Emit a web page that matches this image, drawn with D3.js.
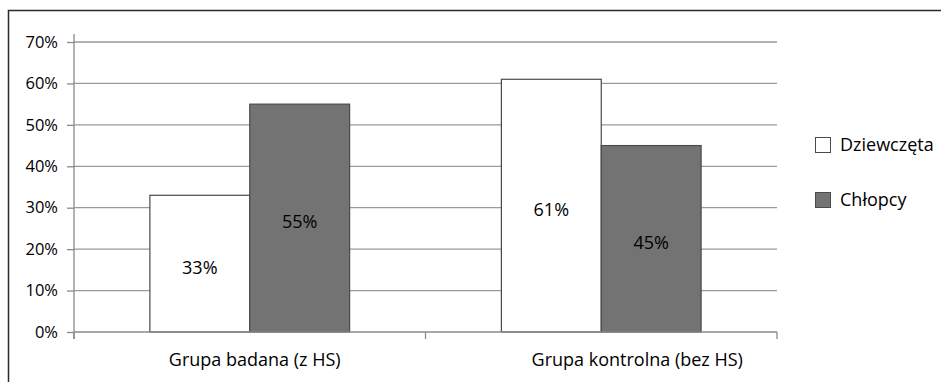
<!DOCTYPE html>
<html>
<head>
<meta charset="utf-8">
<script src="https://cdn.jsdelivr.net/npm/d3@7"></script>
<style>
  html, body { margin: 0; padding: 0; background: #fff; }
  svg { display: block; }
  text { font-family: "Open Sans", "Noto Sans", sans-serif; fill: #000; }
</style>
</head>
<body>
<svg id="chart" width="941" height="382"></svg>
<script>
// Share of respondents by group and sex
const groups = ["Grupa badana (z HS)", "Grupa kontrolna (bez HS)"];
const seriesNames = ["Dziewczęta", "Chłopcy"];
const girls = [33, 61];
const boys = [55, 45];
const yTicks = [0, 10, 20, 30, 40, 50, 60, 70];
const seriesColors = ["#ffffff", "#737373"];

const svg = d3.select("#chart");
const plot = { left: 74, right: 777, top: 42, bottom: 332 };

// outer frame (its right and bottom edges run off the canvas)
svg.append("rect")
  .attr("x", 8.5).attr("y", 10.5)
  .attr("width", 1200).attr("height", 1200)
  .attr("fill", "none").attr("stroke", "#2b2b2b").attr("stroke-width", 1.5);

const x0 = d3.scaleBand().domain(groups).range([plot.left, plot.right]).paddingInner(0).paddingOuter(0);
const x1 = d3.scaleBand().domain(seriesNames).range([0, x0.bandwidth()]).paddingOuter(0.76).paddingInner(0);
const y = d3.scaleLinear().domain([0, 70]).range([plot.bottom, plot.top]);

// horizontal gridlines
svg.append("g").selectAll("line").data(yTicks.filter(d => d > 0)).join("line")
  .attr("x1", plot.left).attr("x2", plot.right)
  .attr("y1", d => y(d)).attr("y2", d => y(d))
  .attr("stroke", "#9a9a9a").attr("stroke-width", 1.3);

// y axis
const yAxis = svg.append("g").attr("transform", `translate(${plot.left},0)`)
  .call(d3.axisLeft(y).tickValues(yTicks).tickFormat(d => d + "%").tickSize(7).tickPadding(9));
yAxis.select(".domain").remove();
yAxis.selectAll(".tick line").attr("stroke", "#8a8a8a").attr("stroke-width", 1.3);
yAxis.selectAll(".tick text").attr("font-size", 16.5).attr("fill", "#000")
  .style("font-family", "'Open Sans', sans-serif");
yAxis.append("line").attr("x1", 0).attr("x2", 0).attr("y1", plot.top - 8).attr("y2", plot.bottom + 7)
  .attr("stroke", "#8a8a8a").attr("stroke-width", 1.3);

// bars
const data = groups.map((g, i) => ({ group: g, values: [girls[i], boys[i]] }));
const gGroups = svg.append("g").selectAll("g").data(data).join("g")
  .attr("transform", d => `translate(${x0(d.group)},0)`);

gGroups.selectAll("rect").data(d => d.values.map((v, j) => ({ name: seriesNames[j], v, j }))).join("rect")
  .attr("x", d => x1(d.name))
  .attr("y", d => y(d.v))
  .attr("width", x1.bandwidth())
  .attr("height", d => y(0) - y(d.v))
  .attr("fill", d => seriesColors[d.j])
  .attr("stroke", "#4a4a4a").attr("stroke-width", 1.2);

gGroups.selectAll("text.val").data(d => d.values.map((v, j) => ({ name: seriesNames[j], v, j }))).join("text")
  .attr("class", "val")
  .attr("x", d => x1(d.name) + x1.bandwidth() / 2)
  .attr("y", d => (y(d.v) + y(0)) / 2 + 4)
  .attr("dy", "0.35em")
  .attr("text-anchor", "middle")
  .attr("font-size", 18)
  .text(d => d.v + "%");

// x axis
const labelShift = [5, 36];
const xAxis = svg.append("g").attr("transform", `translate(0,${plot.bottom})`);
xAxis.append("line").attr("x1", plot.left).attr("x2", plot.right).attr("y1", 0).attr("y2", 0)
  .attr("stroke", "#8a8a8a").attr("stroke-width", 1.3);
const xTickPos = [plot.left, ...groups.map(g => x0(g) + x0.bandwidth())];
xAxis.selectAll("line.tk").data(xTickPos).join("line").attr("class", "tk")
  .attr("x1", d => d).attr("x2", d => d).attr("y1", 0).attr("y2", 7)
  .attr("stroke", "#8a8a8a").attr("stroke-width", 1.3);
xAxis.selectAll("text").data(groups).join("text")
  .attr("x", (d, i) => x0(d) + x0.bandwidth() / 2 + labelShift[i])
  .attr("y", 28)
  .attr("dy", "0.35em")
  .attr("text-anchor", "middle")
  .attr("font-size", 18)
  .text(d => d);

// legend
const legend = svg.append("g").attr("transform", "translate(815,137)");
const li = legend.selectAll("g").data(seriesNames).join("g")
  .attr("transform", (d, i) => `translate(0,${i * 55})`);
li.append("rect").attr("x", 0.5).attr("y", 0.5).attr("width", 15).attr("height", 15)
  .attr("fill", (d, i) => seriesColors[i]).attr("stroke", "#4a4a4a").attr("stroke-width", 1);
li.append("text").attr("x", 25).attr("y", 8).attr("dy", "0.35em")
  .attr("font-size", 18).text(d => d);
</script>
</body>
</html>
